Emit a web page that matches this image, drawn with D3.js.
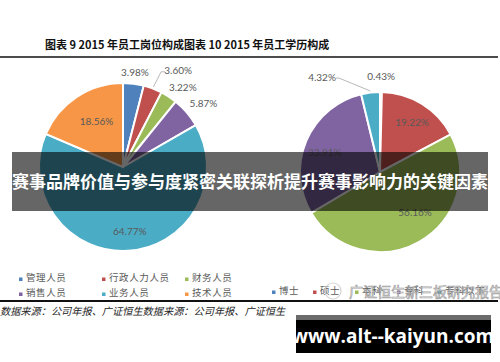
<!DOCTYPE html>
<html>
<head>
<meta charset="utf-8">
<script src="https://cdn.jsdelivr.net/npm/d3@7"></script>
<style>
  body { margin: 0; background: #fff; }
  svg { display: block; }
</style>
</head>
<body>
<svg class="MainSvg"></svg>
<script>
  // data
  var postCats = ["管理人员", "行政人力人员", "财务人员", "销售人员", "业务人员", "技术人员"];
  var postVals = [3.98, 3.60, 3.22, 5.87, 64.77, 18.56];
  var eduCats = ["博士", "硕士", "本科", "专科", "专科以下"];
  var eduVals = [0.43, 19.22, 56.16, 33.91, 4.32];

  var colors = ["#4f81bd", "#c0504d", "#9bbb59", "#8064a2", "#4bacc6", "#f79646"];
  var W = 500, H = 362;
  var cnFont = "'Noto Sans CJK SC', sans-serif";

  var svg = d3.select(".MainSvg").attr("width", W).attr("height", H);
  svg.append("rect").attr("width", W).attr("height", H).attr("fill", "#fff");

  // title + rules
  svg.append("text")
    .attr("x", 45).attr("y", 49)
    .attr("font-family", cnFont).attr("font-weight", "bold").attr("font-size", 11)
    .attr("fill", "#111")
    .text("图表 9 2015 年员工岗位构成图表 10 2015 年员工学历构成");
  svg.append("line").attr("x1", 0).attr("x2", 498).attr("y1", 57).attr("y2", 57)
    .attr("stroke", "#111").attr("stroke-width", 1.6);
  svg.append("line").attr("x1", 0).attr("x2", 498).attr("y1", 301).attr("y2", 301)
    .attr("stroke", "#111").attr("stroke-width", 2);
  svg.append("text")
    .attr("x", 0).attr("y", 315)
    .attr("font-family", cnFont).attr("font-style", "italic").attr("font-size", 10.2)
    .attr("fill", "#222")
    .text("数据来源：公司年报、广证恒生数据来源：公司年报、广证恒生");

  var deg = Math.PI / 180;

  function drawPie(opts) {
    var g = svg.append("g").attr("transform", "translate(" + opts.cx + "," + opts.cy + ")");
    var pie = d3.pie().sort(null).value(function (d) { return d; });
    var arcs = pie(opts.values);
    var arc = d3.arc().innerRadius(0).outerRadius(opts.r);

    g.selectAll("path").data(arcs).enter().append("path")
      .attr("d", arc)
      .attr("fill", function (d, i) { return opts.colors[i]; })
      .attr("stroke", "#fff").attr("stroke-width", 2);

    function polar(a, rr) { return [Math.sin(a) * rr, -Math.cos(a) * rr]; }

    arcs.forEach(function (d, i) {
      var mid = (d.startAngle + d.endAngle) / 2;
      var lay = opts.labels[i];
      var p = polar(mid + lay[0] * deg, opts.r * lay[1]);
      g.append("text")
        .attr("x", p[0]).attr("y", p[1])
        .attr("text-anchor", "middle").attr("dy", "0.35em")
        .attr("font-family", "Lato, 'Open Sans', sans-serif").attr("font-size", 10)
        .attr("fill", "#595959")
        .text(d3.format(".2f")(opts.values[i]) + "%");
      if (lay[2]) {
        var e = polar(mid, opts.r * 1.02);
        var tipX = p[0] + lay[2];
        var elbowX = tipX + (lay[2] > 0 ? 3 : -4);
        g.append("path")
          .attr("d", "M" + e[0] + "," + e[1] + "L" + elbowX + "," + (p[1] + 1) + "L" + tipX + "," + (p[1] + 1))
          .attr("fill", "none").attr("stroke", "#a6a6a6").attr("stroke-width", 0.8);
      }
    });

    // legend
    opts.cats.forEach(function (c, i) {
      var lx = opts.legX[i % opts.legX.length];
      var ly = opts.legY[Math.floor(i / opts.legX.length)];
      svg.append("rect").attr("x", lx).attr("y", ly - 3.5).attr("width", 3.5).attr("height", 3.5)
        .attr("fill", opts.colors[i]);
      svg.append("text").attr("x", lx + 7).attr("y", ly)
        .attr("font-family", cnFont).attr("font-size", 9.5).attr("letter-spacing", 0.6)
        .attr("fill", "#595959")
        .text(c);
    });
  }

  // label layout: [angle shift deg, radius factor, leader offset]
  drawPie({
    cx: 123, cy: 167, r: 84, values: postVals, cats: postCats, colors: colors,
    labels: [[0, 1.14], [9, 1.32, -13], [4, 1.18], [2.3, 1.22], [-2.6, 0.77], [3.4, 0.63]],
    legX: [19, 102, 185], legY: [281, 296]
  });
  drawPie({
    cx: 380, cy: 172, r: 80, values: eduVals, cats: eduCats,
    colors: [colors[0], colors[1], colors[2], colors[3], colors[4]],
    labels: [[0, 1.19], [1, 0.74], [-11.6, 0.67], [-3.8, 0.73], [-24.6, 1.39, 14]],
    legX: [272, 313, 355, 397, 438], legY: [294]
  });

  // watermark
  var wm = svg.append("g").attr("opacity", 0.8);
  wm.append("circle").attr("cx", 333).attr("cy", 291).attr("r", 8)
    .attr("fill", "none").attr("stroke", "#ccc").attr("stroke-width", 1.2);
  wm.append("text").attr("x", 349).attr("y", 297)
    .attr("font-family", cnFont).attr("font-size", 14)
    .attr("fill", "#fff").attr("stroke", "#8a8a8a").attr("stroke-width", 0.7)
    .text("广证恒生新三板研究报告");

  // banner overlay
  svg.append("rect").attr("x", 12).attr("y", 152).attr("width", 476).attr("height", 59)
    .attr("fill", "#000").attr("fill-opacity", 0.6);
  svg.append("text").attr("x", 250).attr("y", 188)
    .attr("text-anchor", "middle")
    .attr("font-family", cnFont).attr("font-weight", "bold").attr("font-size", 17)
    .attr("fill", "#fff")
    .text("赛事品牌价值与参与度紧密关联探析提升赛事影响力的关键因素");

  // site box
  svg.append("rect").attr("x", 296).attr("y", 315).attr("width", 195).attr("height", 38).attr("fill", "#000");
  svg.append("rect").attr("x", 296).attr("y", 315).attr("width", 195).attr("height", 5).attr("fill", "#6b6b6b");
  svg.append("text").attr("x", 393).attr("y", 343)
    .attr("text-anchor", "middle")
    .attr("font-family", "'Open Sans', sans-serif").attr("font-weight", "bold").attr("font-size", 19)
    .attr("fill", "#fff")
    .text("www.alt--kaiyun.com");
</script>
</body>
</html>
